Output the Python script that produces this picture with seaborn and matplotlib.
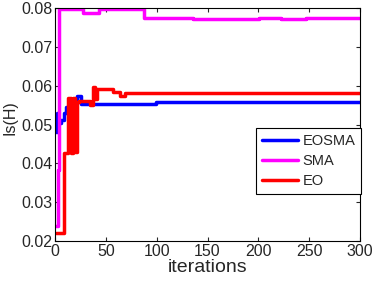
import pandas as pd
import matplotlib
matplotlib.use('Agg')
import matplotlib.pyplot as plt
import seaborn as sns

# step curves (iteration where the value starts, value)
eosma_iter = [1, 1.5, 2.5, 6, 9, 11, 14, 18, 21, 25, 99, 300]
eosma_val = [0.0481, 0.0530, 0.0505, 0.0512, 0.0530, 0.0545, 0.0556, 0.0562, 0.0573, 0.0553, 0.0558, 0.0558]

sma_iter = [1, 2.5, 3.5, 27, 43, 87, 128, 136, 201, 222, 247, 300]
sma_val = [0.0238, 0.0383, 0.0798, 0.0788, 0.0798, 0.07735, 0.0775, 0.0771, 0.07735, 0.0771, 0.07735, 0.07735]

eo_iter = [1, 9, 13, 16, 17.5, 19.5, 21, 23, 34, 37.5, 39.5, 41, 57, 64, 69, 300]
eo_val = [0.0222, 0.0428, 0.0568, 0.0428, 0.0568, 0.0430, 0.0557, 0.0561, 0.0551, 0.0597, 0.0565, 0.0591, 0.0583, 0.0573, 0.0580, 0.0580]

series = [('EOSMA', eosma_iter, eosma_val, (0, 0, 1)),
          ('SMA', sma_iter, sma_val, (1, 0, 1)),
          ('EO', eo_iter, eo_val, (1, 0, 0))]

sns.set_style('ticks')
plt.rcParams['font.family'] = ['Liberation Sans', 'DejaVu Sans']

fig = plt.figure(figsize=(3.78, 2.84), dpi=100)
ax = fig.add_axes([0.146, 0.151, 0.806, 0.821])

for name, xs, ys, col in series:
    df = pd.DataFrame({'iter': xs, 'val': ys})
    sns.lineplot(data=df, x='iter', y='val', ax=ax, color=col, linewidth=2.5,
                 drawstyle='steps-post', estimator=None, sort=False, label=name)

ax.set_xlim(0, 300)
ax.set_ylim(0.02, 0.08)
ax.set_xticks([0, 50, 100, 150, 200, 250, 300])
ax.set_yticks([0.02, 0.03, 0.04, 0.05, 0.06, 0.07, 0.08])
ax.set_yticklabels(['0.02', '0.03', '0.04', '0.05', '0.06', '0.07', '0.08'])
ax.tick_params(direction='in', top=True, right=True, labelsize=11.5, length=3,
               width=0.8, pad=2)
for sp in ax.spines.values():
    sp.set_linewidth(0.8)
    sp.set_color('black')

ax.set_xlabel('iterations', fontsize=14, labelpad=0)
ax.set_ylabel('Is(H)', fontsize=11.5, labelpad=2)
ax.yaxis.set_label_coords(-0.125, 0.53)

leg = ax.legend(loc='center right', bbox_to_anchor=(1.005, 0.342), borderaxespad=0,
                fontsize=10.5, handlelength=2.5, handletextpad=0.3, labelspacing=0.42,
                borderpad=0.4, fancybox=False, framealpha=1)
leg.get_frame().set_edgecolor('black')
leg.get_frame().set_linewidth(0.8)

fig.savefig('out.png', dpi=100)
